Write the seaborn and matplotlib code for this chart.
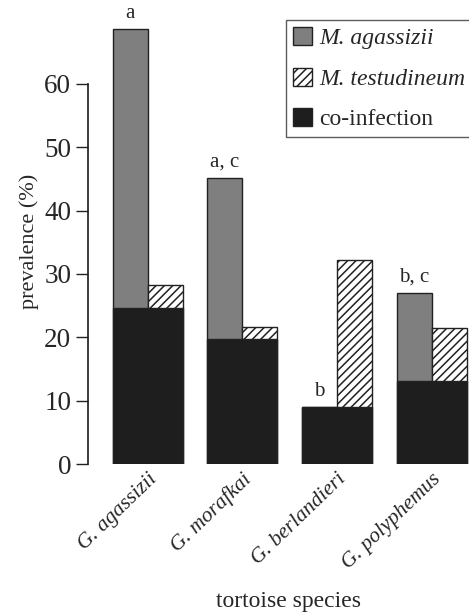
import matplotlib
matplotlib.use("Agg")
import matplotlib.pyplot as plt
import seaborn as sns
import pandas as pd
from matplotlib.patches import Patch

species = ["G. agassizii", "G. morafkai", "G. berlandieri", "G. polyphemus"]
m_agassizii = [68.6, 45.1, 9.0, 27.0]
m_testudineum = [28.2, 21.7, 32.2, 21.5]
co_infection = [24.7, 19.7, 9.0, 13.1]
letters = ["a", "a, c", "b", "b, c"]
yticks = [0, 10, 20, 30, 40, 50, 60]

sns.set_theme(style="ticks")
plt.rcParams["font.family"] = ["Liberation Serif", "DejaVu Serif"]
plt.rcParams["hatch.linewidth"] = 1.1

fig = plt.figure(figsize=(4.69, 6.15), dpi=100)
ax = fig.add_axes([88/469, 151/615, (469-88)/469, (464-18)/615])

long = pd.DataFrame({
    "species": species * 2,
    "value": m_agassizii + m_testudineum,
    "type": ["M. agassizii"] * 4 + ["M. testudineum"] * 4,
})
sns.barplot(data=long, x="species", y="value", hue="type",
            hue_order=["M. agassizii", "M. testudineum"],
            palette=["#7f7f7f", "white"], dodge=True, width=0.74,
            edgecolor="#222222", linewidth=1.0, ax=ax, legend=False,
            errorbar=None, saturation=1)
for p in ax.patches[4:8]:
    p.set_hatch("////")
co = pd.DataFrame({"species": species, "value": co_infection})
sns.barplot(data=co, x="species", y="value", color="#1e1e1e", width=0.74,
            edgecolor="#222222", linewidth=1.0, ax=ax, errorbar=None,
            saturation=1)

for i, (lab, top) in enumerate(zip(letters, m_agassizii)):
    ax.text(i - 0.185, top + 1.0, lab, ha="center", va="bottom", fontsize=15)

ax.set_xlim(-0.63, 3.395)
ax.set_ylim(0, 70.4)
ax.set_yticks(yticks)
ax.tick_params(axis="y", length=9, width=1, labelsize=19.5, pad=3, color="#222222")
ax.tick_params(axis="x", length=0, pad=4)
ax.set_xticks(range(4))
ax.set_xticklabels(species, rotation=44, ha="right", rotation_mode="anchor",
                   fontsize=15.5, style="italic")
ax.spines["left"].set_bounds(0, 60)
for s in ["top", "right", "bottom"]:
    ax.spines[s].set_visible(False)
ax.spines["left"].set_color("#222222")
ax.set_ylabel("prevalence (%)", fontsize=16, labelpad=4)
ax.set_xlabel("tortoise species", fontsize=17)
ax.xaxis.set_label_coords(0.525, -0.285)

handles = [Patch(facecolor="#7f7f7f", edgecolor="#222222"),
           Patch(facecolor="white", edgecolor="#222222", hatch="////"),
           Patch(facecolor="#1e1e1e", edgecolor="#222222")]
labels = ["M. agassizii", "M. testudineum", "co-infection"]
leg = ax.legend(handles, labels, loc="upper right", bbox_to_anchor=(1.008, 0.996),
                fontsize=17, frameon=True, fancybox=False, edgecolor="#333333",
                handlelength=0.8, handleheight=0.8, handletextpad=0.3,
                borderpad=0.3, labelspacing=0.78, borderaxespad=0.0)
leg.get_frame().set_linewidth(1.0)
for t in leg.get_texts()[:2]:
    t.set_style("italic")

fig.savefig("out.png", dpi=100)
